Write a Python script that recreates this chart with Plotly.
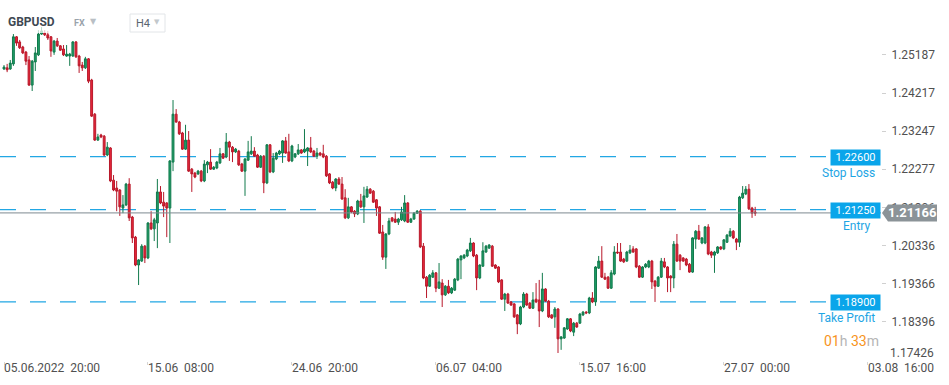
import plotly.graph_objects as go

opens = [
1.2483,1.2486,1.2483,1.2496,1.2565,1.2552,1.2539,1.2526,1.2506,1.2442,
1.2501,1.2519,1.2572,1.2575,1.2570,1.2565,1.2526,1.2554,1.2542,1.2534,
1.2516,1.2516,1.2516,1.2552,1.2516,1.2493,1.2486,1.2509,1.2455,1.2368,
1.2302,1.2315,1.2312,1.2264,1.2282,1.2200,1.2180,1.2175,1.2129,1.2137,
1.2190,1.2106,1.2055,1.1984,1.1994,1.2032,1.2002,1.2091,1.2076,1.2091,
1.2170,1.2144,1.2142,1.2129,1.2246,1.2368,1.2348,1.2320,1.2279,1.2302,
1.2228,1.2218,1.2216,1.2223,1.2198,1.2239,1.2246,1.2228,1.2231,1.2244,
1.2267,1.2259,1.2297,1.2284,1.2272,1.2274,1.2241,1.2223,1.2251,1.2267,
1.2274,1.2264,1.2233,1.2261,1.2193,1.2290,1.2221,1.2254,1.2267,1.2269,
1.2300,1.2272,1.2249,1.2259,1.2267,1.2277,1.2272,1.2274,1.2282,1.2274,
1.2261,1.2269,1.2267,1.2261,1.2216,1.2195,1.2180,1.2203,1.2190,1.2155,
1.2104,1.2132,1.2121,1.2114,1.2147,1.2132,1.2157,1.2177,1.2172,1.2150,
1.2132,1.2068,1.2004,1.2063,1.2104,1.2101,1.2093,1.2099,1.2096,1.2142,
1.2093,1.2101,1.2116,1.2121,1.2032,1.1953,1.1930,1.1953,1.1964,1.1925,
1.1938,1.1908,1.1930,1.1913,1.1920,1.1946,1.1997,1.2002,1.2007,1.2020,
1.2040,1.2009,1.1951,1.1981,1.2017,1.2027,1.2032,1.1984,1.1979,1.1946,
1.1897,1.1910,1.1890,1.1885,1.1857,1.1834,1.1877,1.1910,1.1887,1.1874,
1.1897,1.1895,1.1867,1.1923,1.1892,1.1857,1.1852,1.1872,1.1796,1.1798,
1.1821,1.1847,1.1813,1.1836,1.1836,1.1857,1.1864,1.1862,1.1900,1.1890,
1.1976,1.1994,1.1953,1.1953,1.1925,1.1961,1.2017,1.2017,1.1999,1.1994,
1.2015,1.2025,1.2025,1.1981,1.1953,1.1979,1.1979,1.1994,1.1943,1.1930,
1.1953,1.1992,1.1979,1.1956,1.1951,1.2037,1.2009,1.2002,1.1999,1.1986,
1.1966,1.2050,1.2070,1.2040,1.2040,1.2081,1.2017,1.2009,1.2015,1.2030,
1.2025,1.2042,1.2058,1.2070,1.2050,1.2042,1.2155,1.2165,1.2177,1.2129,
1.2119]

highs = [
1.2493,1.2496,1.2506,1.2572,1.2567,1.2557,1.2542,1.2529,1.2516,1.2506,
1.2539,1.2582,1.2590,1.2582,1.2580,1.2567,1.2557,1.2562,1.2544,1.2544,
1.2544,1.2524,1.2554,1.2554,1.2519,1.2501,1.2514,1.2511,1.2458,1.2371,
1.2318,1.2318,1.2315,1.2297,1.2284,1.2213,1.2198,1.2177,1.2162,1.2193,
1.2205,1.2109,1.2058,1.1999,1.2037,1.2035,1.2093,1.2121,1.2104,1.2203,
1.2185,1.2170,1.2144,1.2251,1.2404,1.2381,1.2351,1.2323,1.2341,1.2325,
1.2231,1.2221,1.2226,1.2226,1.2251,1.2249,1.2279,1.2236,1.2249,1.2282,
1.2269,1.2320,1.2300,1.2287,1.2282,1.2277,1.2244,1.2256,1.2300,1.2312,
1.2284,1.2267,1.2264,1.2264,1.2292,1.2292,1.2269,1.2272,1.2277,1.2302,
1.2310,1.2318,1.2290,1.2269,1.2292,1.2279,1.2330,1.2284,1.2310,1.2277,
1.2282,1.2272,1.2290,1.2264,1.2218,1.2198,1.2205,1.2208,1.2208,1.2177,
1.2155,1.2134,1.2124,1.2150,1.2165,1.2183,1.2185,1.2180,1.2175,1.2152,
1.2134,1.2086,1.2065,1.2104,1.2106,1.2119,1.2104,1.2132,1.2162,1.2144,
1.2104,1.2119,1.2124,1.2124,1.2040,1.1956,1.1961,1.1971,1.1966,1.1989,
1.1948,1.1933,1.1946,1.1928,1.1951,1.2002,1.2009,1.2012,1.2025,1.2053,
1.2042,1.2012,1.1986,1.2042,1.2035,1.2037,1.2035,1.1986,1.1981,1.1948,
1.1913,1.1913,1.1892,1.1887,1.1859,1.1880,1.1915,1.1913,1.1890,1.1915,
1.1938,1.1946,1.1964,1.1925,1.1895,1.1859,1.1877,1.1874,1.1803,1.1826,
1.1849,1.1849,1.1839,1.1839,1.1862,1.1867,1.1867,1.1903,1.1915,1.1981,
1.2007,1.2032,1.1964,1.1956,1.1971,1.2032,1.2040,1.2040,1.2002,1.2020,
1.2035,1.2032,1.2027,1.1984,1.1981,1.1989,1.1997,1.1997,1.1946,1.1956,
1.2002,1.2002,1.1981,1.1958,1.2045,1.2063,1.2012,1.2004,1.2002,1.1989,
1.2055,1.2073,1.2086,1.2055,1.2083,1.2088,1.2020,1.2020,1.2032,1.2032,
1.2050,1.2063,1.2078,1.2073,1.2053,1.2160,1.2185,1.2185,1.2190,1.2132,
1.2132]

lows = [
1.2481,1.2475,1.2481,1.2491,1.2542,1.2534,1.2521,1.2493,1.2440,1.2427,
1.2478,1.2516,1.2570,1.2567,1.2557,1.2514,1.2519,1.2539,1.2529,1.2516,
1.2514,1.2491,1.2514,1.2511,1.2473,1.2478,1.2483,1.2447,1.2361,1.2300,
1.2300,1.2307,1.2261,1.2261,1.2195,1.2172,1.2121,1.2109,1.2116,1.2134,
1.2096,1.2040,1.1981,1.1933,1.1992,1.1989,1.1999,1.2073,1.2045,1.2027,
1.2139,1.2106,1.2055,1.2040,1.2223,1.2346,1.2315,1.2277,1.2277,1.2221,
1.2170,1.2205,1.2213,1.2195,1.2195,1.2218,1.2226,1.2226,1.2228,1.2241,
1.2254,1.2256,1.2249,1.2246,1.2269,1.2236,1.2221,1.2160,1.2249,1.2264,
1.2259,1.2231,1.2231,1.2167,1.2190,1.2218,1.2218,1.2251,1.2264,1.2244,
1.2267,1.2246,1.2246,1.2256,1.2264,1.2267,1.2269,1.2236,1.2269,1.2259,
1.2254,1.2261,1.2256,1.2208,1.2190,1.2177,1.2172,1.2188,1.2150,1.2101,
1.2101,1.2116,1.2106,1.2111,1.2129,1.2091,1.2155,1.2165,1.2142,1.2109,
1.2063,1.1997,1.1974,1.2060,1.2093,1.2091,1.2086,1.2096,1.2093,1.2091,
1.2091,1.2099,1.2114,1.2027,1.1948,1.1900,1.1928,1.1951,1.1915,1.1923,
1.1877,1.1905,1.1910,1.1910,1.1918,1.1943,1.1948,1.1999,1.2004,1.2017,
1.2004,1.1920,1.1948,1.1979,1.2015,1.2025,1.1979,1.1974,1.1938,1.1895,
1.1867,1.1885,1.1880,1.1849,1.1808,1.1831,1.1874,1.1880,1.1872,1.1872,
1.1887,1.1826,1.1864,1.1890,1.1849,1.1847,1.1824,1.1760,1.1768,1.1796,
1.1819,1.1813,1.1803,1.1824,1.1834,1.1854,1.1859,1.1859,1.1887,1.1880,
1.1974,1.1951,1.1946,1.1923,1.1923,1.1958,1.2012,1.1992,1.1989,1.1992,
1.2012,1.2015,1.1976,1.1951,1.1951,1.1976,1.1976,1.1923,1.1890,1.1928,
1.1951,1.1976,1.1915,1.1915,1.1925,1.1992,1.1971,1.1992,1.1981,1.1964,
1.1964,1.2025,1.2048,1.2037,1.2037,1.2009,1.2002,1.1964,1.2012,1.2022,
1.2022,1.2040,1.2055,1.2050,1.2022,1.2030,1.2152,1.2162,1.2124,1.2104,
1.2109]

closes = [
1.2488,1.2481,1.2498,1.2565,1.2549,1.2537,1.2524,1.2503,1.2442,1.2503,
1.2524,1.2572,1.2580,1.2570,1.2562,1.2529,1.2554,1.2542,1.2531,1.2519,
1.2521,1.2521,1.2552,1.2514,1.2491,1.2486,1.2509,1.2452,1.2363,1.2302,
1.2310,1.2310,1.2264,1.2284,1.2198,1.2175,1.2172,1.2132,1.2137,1.2190,
1.2104,1.2053,1.1984,1.1997,1.2032,1.2002,1.2091,1.2076,1.2099,1.2170,
1.2142,1.2134,1.2129,1.2249,1.2368,1.2348,1.2318,1.2279,1.2302,1.2223,
1.2216,1.2208,1.2223,1.2198,1.2241,1.2246,1.2228,1.2233,1.2246,1.2267,
1.2256,1.2297,1.2284,1.2272,1.2279,1.2239,1.2223,1.2254,1.2272,1.2274,
1.2261,1.2233,1.2261,1.2193,1.2290,1.2221,1.2256,1.2269,1.2274,1.2300,
1.2269,1.2249,1.2287,1.2267,1.2277,1.2269,1.2279,1.2282,1.2272,1.2261,
1.2269,1.2264,1.2259,1.2211,1.2193,1.2180,1.2203,1.2190,1.2152,1.2104,
1.2132,1.2119,1.2114,1.2147,1.2132,1.2160,1.2177,1.2167,1.2144,1.2129,
1.2065,1.2004,1.2063,1.2096,1.2096,1.2093,1.2101,1.2119,1.2142,1.2093,
1.2101,1.2116,1.2121,1.2030,1.1951,1.1930,1.1958,1.1964,1.1925,1.1941,
1.1908,1.1930,1.1913,1.1925,1.1948,1.1999,1.2007,1.2009,1.2022,1.2040,
1.2007,1.1951,1.1984,1.2020,1.2032,1.2035,1.1981,1.1976,1.1941,1.1897,
1.1910,1.1887,1.1882,1.1852,1.1834,1.1877,1.1910,1.1882,1.1874,1.1895,
1.1890,1.1867,1.1923,1.1892,1.1852,1.1849,1.1872,1.1796,1.1801,1.1824,
1.1847,1.1816,1.1836,1.1826,1.1859,1.1864,1.1862,1.1900,1.1890,1.1979,
1.1994,1.1953,1.1948,1.1925,1.1964,1.2017,1.2015,1.1994,1.1992,1.2017,
1.2022,1.2017,1.1979,1.1953,1.1979,1.1986,1.1994,1.1941,1.1930,1.1953,
1.1994,1.1979,1.1951,1.1951,1.2037,1.1994,1.1994,1.1994,1.1984,1.1966,
1.2053,1.2070,1.2050,1.2053,1.2081,1.2012,1.2009,1.2017,1.2030,1.2025,
1.2048,1.2060,1.2070,1.2053,1.2042,1.2157,1.2167,1.2177,1.2127,1.2116,
1.2116]

bar_index = list(range(len(opens)))

date_tick_index = [0, 46, 92, 138, 184, 230, 276]
date_tick_labels = ["05.06.2022  20:00", "15.06  08:00", "24.06  20:00", "06.07  04:00",
                    "15.07  16:00", "27.07  00:00", "03.08  16:00"]

price_ticks = [1.25187, 1.24217, 1.23247, 1.22277, 1.21306, 1.20336, 1.19366, 1.18396]
bottom_price_tick = 1.17426

stop_loss = 1.22600
entry = 1.21250
take_profit = 1.18900
last_price = 1.21166

FONT = "Roboto"
BLUE = "#0aa5ea"
BLUE_TXT = "#1ea5e4"

fig = go.Figure()
fig.add_trace(go.Candlestick(
    x=bar_index, open=opens, high=highs, low=lows, close=closes,
    increasing=dict(line=dict(color="#117a4c", width=1), fillcolor="#1f9e68"),
    decreasing=dict(line=dict(color="#b8182a", width=1), fillcolor="#e8283a"),
    whiskerwidth=0, showlegend=False, hoverinfo="skip"))

shapes = []
for lvl in (stop_loss, entry, take_profit):
    shapes.append(dict(type="line", xref="paper", yref="y", x0=0, x1=826/881, y0=lvl, y1=lvl,
                       line=dict(color="#22a7e4", width=1.2, dash="16px,14px"), layer="below"))
shapes.append(dict(type="line", xref="paper", yref="y", x0=0, x1=1.0, y0=last_price, y1=last_price,
                   line=dict(color="#7d8a90", width=1), layer="above"))
# faded header band
shapes.append(dict(type="rect", xref="paper", yref="paper", x0=0, x1=1, y0=1 - 33/361, y1=1.0,
                   fillcolor="rgba(255,255,255,0.72)", line=dict(width=0), layer="above"))
# H4 dropdown box
shapes.append(dict(type="rect", xref="paper", yref="paper", x0=130/881, x1=165/881,
                   y0=1 - 32/361, y1=1 - 14/361, fillcolor="white",
                   line=dict(color="#e2e5e8", width=1), layer="above"))
# current price pointer box
h = 8.5 * 0.0002546
fig_path = (f"M {882/881},{last_price} L {888/881},{last_price + h} L {937/881},{last_price + h} "
            f"L {937/881},{last_price - h} L {888/881},{last_price - h} Z")
shapes.append(dict(type="path", xref="paper", yref="y", path=fig_path,
                   fillcolor="#8b9398", line=dict(width=0), layer="above"))

ann = []
for lvl, name in ((stop_loss, "Stop Loss"), (entry, "Entry"), (take_profit, "Take Profit")):
    ann.append(dict(xref="paper", yref="y", x=1.0, y=lvl, xanchor="right", yanchor="middle",
                    text=f"{lvl:.5f}", showarrow=False, bgcolor=BLUE, width=45, height=11,
                    borderpad=2, font=dict(family=FONT, size=11, color="white"), yshift=-1))
    ann.append(dict(xref="paper", yref="y", x=1.0, y=lvl, xanchor="right", yanchor="middle",
                    text=name, showarrow=False, xshift=-4 if name != "Entry" else -8, yshift=-16,
                    font=dict(family=FONT, size=12, color=BLUE_TXT)))
ann.append(dict(xref="paper", yref="y", x=912/881, y=last_price, xanchor="center", yanchor="middle",
                text=f"<b>{last_price:.5f}</b>", showarrow=False,
                font=dict(family=FONT, size=13, color="white")))
ann.append(dict(xref="paper", yref="y", x=1.0, y=bottom_price_tick, xanchor="left", yanchor="middle",
                text=f"{bottom_price_tick:.5f}", showarrow=False, xshift=7, yshift=7,
                font=dict(family=FONT, size=12, color="#505050")))
for idx, lab in zip(date_tick_index, date_tick_labels):
    ann.append(dict(xref="x", yref="paper", x=idx, y=0, xanchor="left", yanchor="middle",
                    text=lab.replace("  ", "&nbsp;&nbsp;"), showarrow=False, xshift=-2, yshift=-7,
                    font=dict(family=FONT, size=12, color="#505050")))
ann.append(dict(xref="paper", yref="paper", x=1.0, y=1 - 341/361, xanchor="right", yanchor="middle",
                text='<span style="color:#f7941d">01</span><span style="color:#b5b5b5">h </span>'
                     '<span style="color:#f7941d">33</span><span style="color:#b5b5b5">m</span>',
                showarrow=False, font=dict(family=FONT, size=14)))
# header
ann.append(dict(xref="paper", yref="paper", x=0, y=1, xanchor="left", yanchor="middle",
                xshift=6, yshift=-22, text="<b>GBPUSD</b>", showarrow=False,
                font=dict(family=FONT, size=12, color="#3e4852")))
ann.append(dict(xref="paper", yref="paper", x=0, y=1, xanchor="left", yanchor="middle",
                xshift=72, yshift=-23, text="<b>FX</b>", showarrow=False,
                font=dict(family=FONT, size=9, color="#9aa3ab")))
ann.append(dict(xref="paper", yref="paper", x=0, y=1, xanchor="left", yanchor="middle",
                xshift=88, yshift=-21, text="▼", showarrow=False,
                font=dict(family="DejaVu Sans", size=8, color="#b9bfc5")))
ann.append(dict(xref="paper", yref="paper", x=0, y=1, xanchor="left", yanchor="middle",
                xshift=134, yshift=-23, text="H4", showarrow=False,
                font=dict(family=FONT, size=11, color="#5a6570")))
ann.append(dict(xref="paper", yref="paper", x=0, y=1, xanchor="left", yanchor="middle",
                xshift=152, yshift=-22, text="▼", showarrow=False,
                font=dict(family="DejaVu Sans", size=7, color="#c3c8cc")))

fig.update_layout(
    width=949, height=385,
    margin=dict(l=0, r=68, t=0, b=24),
    paper_bgcolor="white", plot_bgcolor="white",
    boxgap=0.15,
    font=dict(family=FONT, size=12, color="#505050"),
    shapes=shapes, annotations=ann,
    xaxis=dict(range=[-1.28, 280.2], rangeslider=dict(visible=False), showgrid=False,
               zeroline=False, showline=False, tickvals=date_tick_index, showticklabels=False,
               ticks="outside", ticklen=3, tickcolor="#d5d5d5", fixedrange=True),
    yaxis=dict(range=[1.17396, 1.26587], side="right", showgrid=False, zeroline=False,
               showline=False, tickvals=price_ticks, ticktext=[f"{v:.5f}" for v in price_ticks],
               ticks="outside", ticklen=4, tickcolor="#d0d0d0", ticklabelstandoff=3,
               tickfont=dict(family=FONT, size=12, color="#505050"), fixedrange=True),
)

fig.write_html("out.html", config={"displayModeBar": False},
               post_script="document.body.style.margin='0';document.body.style.overflow='hidden';")
